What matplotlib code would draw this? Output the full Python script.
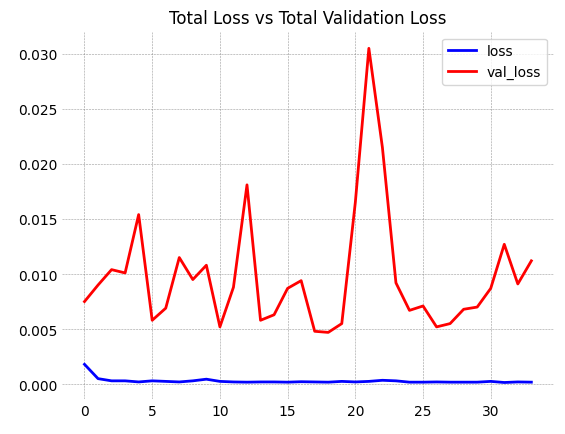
import matplotlib
matplotlib.use("Agg")
from matplotlib import pyplot as plt

epochs = list(range(34))
loss = [0.0018, 0.0005, 0.0003, 0.0003, 0.0002, 0.0003, 0.00025, 0.0002, 0.0003, 0.00045,
        0.00025, 0.0002, 0.00018, 0.0002, 0.0002, 0.00018, 0.00022, 0.0002, 0.00018, 0.00025,
        0.0002, 0.00025, 0.00035, 0.0003, 0.00018, 0.00018, 0.0002, 0.00018, 0.00018, 0.00018,
        0.00025, 0.00015, 0.0002, 0.00018]
val_loss = [0.0075, 0.0090, 0.0104, 0.0101, 0.0154, 0.0058, 0.0069, 0.0115, 0.0095, 0.0108,
            0.0052, 0.0088, 0.0181, 0.0058, 0.0063, 0.0087, 0.0094, 0.0048, 0.0047, 0.0055,
            0.0165, 0.0305, 0.0215, 0.0092, 0.0067, 0.0071, 0.0052, 0.0055, 0.0068, 0.0070,
            0.0087, 0.0127, 0.0091, 0.0112]

fig, ax = plt.subplots(figsize=(5.65, 4.35), dpi=100)
ax.plot(epochs, loss, color="blue", linewidth=2, label="loss")
ax.plot(epochs, val_loss, color="red", linewidth=2, label="val_loss")
ax.set_title("Total Loss vs Total Validation Loss")
ax.grid(True, color="gray", linestyle="--", linewidth=0.4, alpha=0.8)
for s in ax.spines.values():
    s.set_visible(False)
ax.tick_params(length=0)
ax.legend(loc="upper right")
fig.subplots_adjust(left=0.11, right=0.98, top=0.925, bottom=0.08)
fig.savefig("out.png")
